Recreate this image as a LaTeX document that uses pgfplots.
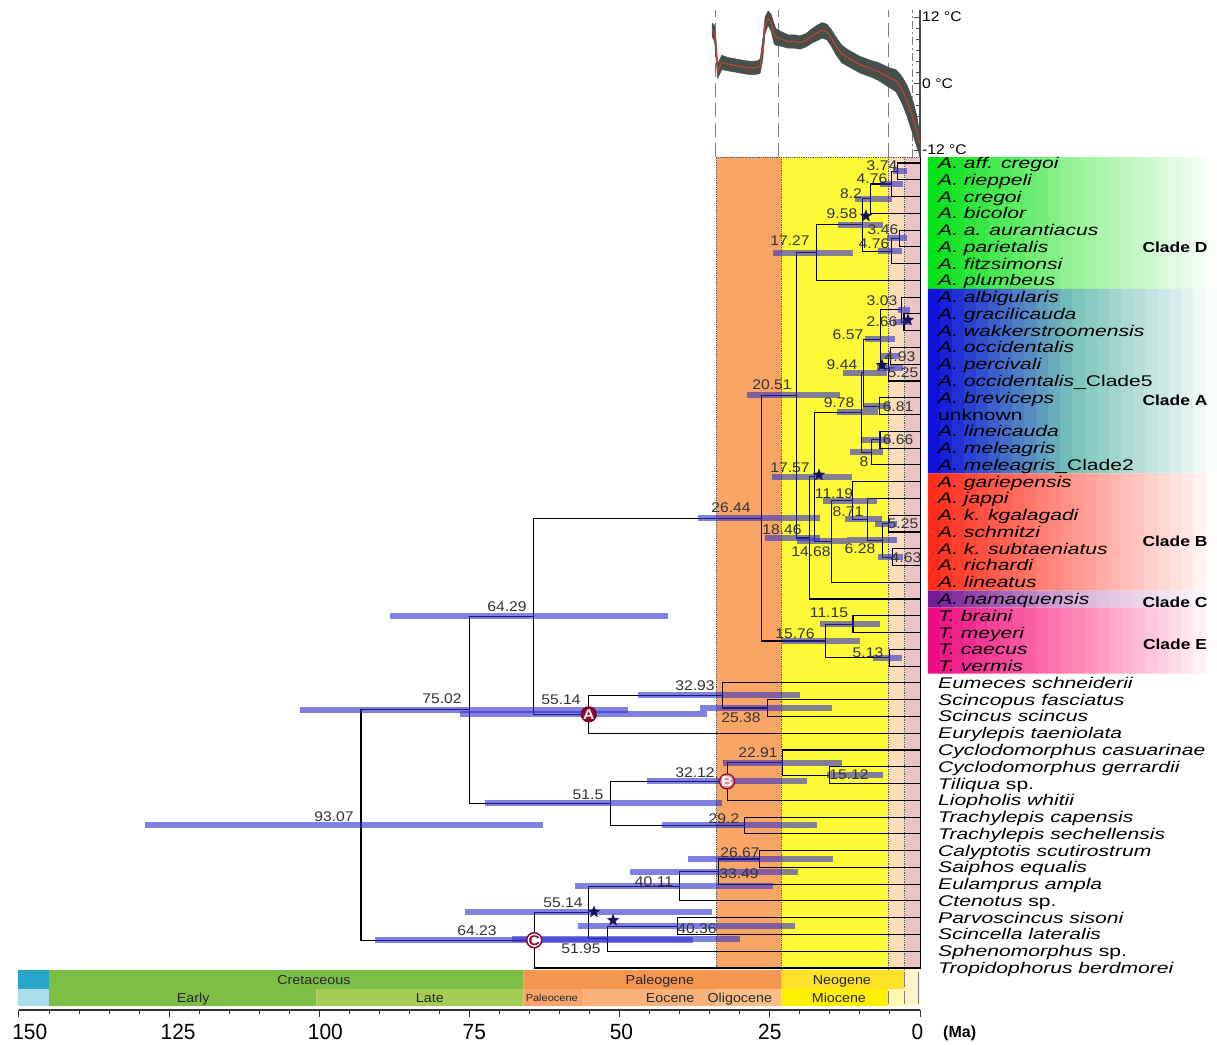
\documentclass[border=0pt]{standalone}
\usepackage{graphicx}
\usepackage{fontspec}
\setmainfont{Liberation Sans}
\newfontfamily\nlfont[FakeStretch=1.12]{Liberation Sans}
\newfontfamily\tsfont[FakeStretch=1.1]{Liberation Sans}
\newfontfamily\tkfont[FakeStretch=0.95]{Liberation Sans}
\usepackage{pgfplots}
\pgfplotsset{compat=1.18}

\newcommand{\fnl}{\nlfont\fontsize{14}{14}\selectfont}
\newcommand{\fts}{\tsfont\fontsize{13}{13}\selectfont}
\newcommand{\ftss}{\tsfont\fontsize{10}{10}\selectfont}
\newcommand{\ftk}{\tkfont\fontsize{22}{22}\selectfont}
% tip labels: plain Liberation Sans Italic, widened with \scalebox
\newcommand{\splab}[1]{\scalebox{1.36}[1]{\fontsize{15.5}{16}\selectfont\itshape\color{black}#1}}
\newcommand{\cllab}[1]{\scalebox{1.2}[1]{\fontsize{14.5}{15}\selectfont\bfseries\color{black}#1}}

\definecolor{olig}{RGB}{248,165,102}
\definecolor{mioc}{RGB}{255,250,55}
\definecolor{plio}{RGB}{250,222,185}
\definecolor{plei}{RGB}{235,195,195}
\definecolor{hpdc}{RGB}{45,45,205}
\definecolor{maroon}{RGB}{140,10,50}
\definecolor{starc}{RGB}{20,20,90}
\definecolor{tband}{RGB}{70,80,75}
\definecolor{tred}{RGB}{195,65,50}
\definecolor{jur}{RGB}{40,165,200}
\definecolor{jurl}{RGB}{170,220,235}
\definecolor{cret}{RGB}{125,190,70}
\definecolor{cretl}{RGB}{165,205,85}
\definecolor{paleog}{RGB}{245,150,80}
\definecolor{paleoc}{RGB}{248,165,110}
\definecolor{eoc}{RGB}{250,178,122}
\definecolor{oligt}{RGB}{252,192,135}
\definecolor{neog}{RGB}{255,225,40}
\definecolor{miot}{RGB}{255,240,0}
\definecolor{pliot}{RGB}{255,250,175}
\definecolor{quat}{RGB}{255,242,200}
\definecolor{cDl}{RGB}{0,225,20}
\definecolor{cDm}{RGB}{150,242,150}
\definecolor{cAl}{RGB}{10,10,220}
\definecolor{cAm}{RGB}{120,195,185}
\definecolor{cBl}{RGB}{255,40,20}
\definecolor{cBm}{RGB}{255,150,140}
\definecolor{cCl}{RGB}{110,20,150}
\definecolor{cCm}{RGB}{215,175,215}
\definecolor{cEl}{RGB}{235,10,130}
\definecolor{cEm}{RGB}{255,130,180}

\pgfdeclareplotmark{fstar}{%
 \pgfpathmoveto{\pgfpointpolar{90}{\pgfplotmarksize}}%
 \pgfpathlineto{\pgfpointpolar{126}{0.42\pgfplotmarksize}}%
 \pgfpathlineto{\pgfpointpolar{162}{\pgfplotmarksize}}%
 \pgfpathlineto{\pgfpointpolar{198}{0.42\pgfplotmarksize}}%
 \pgfpathlineto{\pgfpointpolar{234}{\pgfplotmarksize}}%
 \pgfpathlineto{\pgfpointpolar{270}{0.42\pgfplotmarksize}}%
 \pgfpathlineto{\pgfpointpolar{306}{\pgfplotmarksize}}%
 \pgfpathlineto{\pgfpointpolar{342}{0.42\pgfplotmarksize}}%
 \pgfpathlineto{\pgfpointpolar{18}{\pgfplotmarksize}}%
 \pgfpathlineto{\pgfpointpolar{54}{0.42\pgfplotmarksize}}%
 \pgfpathclose
 \pgfusepathqfillstroke}

\tikzset{
  br/.style={black, line width=1.1pt, line join=miter},
  hpd/.style={hpdc, opacity=0.6, line width=6pt, line cap=butt},
  nl/.style={font=\fnl, text=black!80, anchor=base, yshift=-5pt, inner sep=0pt},
  sp/.style={text=black, anchor=base west, yshift=-5.5pt, inner sep=0pt},
  cl/.style={text=black, anchor=base, yshift=-5.2pt, inner sep=0pt},
  bnd/.style={gray!70!black, densely dotted, line width=0.8pt},
  ts/.style={font=\fts, text=black!85, anchor=base, yshift=-4.6pt, inner sep=0pt},
  tk/.style={font=\ftk, text=black, anchor=base, inner sep=0pt},
}

% one vertical strip of a clade box: colour, x from, x to, y top, y bottom
\newcommand{\strip}[5]{\addplot[fill=#1, draw=none] coordinates {(#2,#4) (#3,#4) (#3,#5) (#2,#5) (#2,#4)};}
% clade box made of 24 strips: left colour, middle colour, y top, y bottom
\newcommand{\cbox}[4]{%
 \strip{#1!95.8!#2}{-1.33}{-3.48}{#3}{#4}
 \strip{#1!87.5!#2}{-3.335}{-5.49}{#3}{#4}
 \strip{#1!79.2!#2}{-5.339}{-7.49}{#3}{#4}
 \strip{#1!70.8!#2}{-7.344}{-9.50}{#3}{#4}
 \strip{#1!62.5!#2}{-9.348}{-11.50}{#3}{#4}
 \strip{#1!54.2!#2}{-11.353}{-13.51}{#3}{#4}
 \strip{#1!45.8!#2}{-13.358}{-15.51}{#3}{#4}
 \strip{#1!37.5!#2}{-15.362}{-17.52}{#3}{#4}
 \strip{#1!29.2!#2}{-17.367}{-19.52}{#3}{#4}
 \strip{#1!20.8!#2}{-19.371}{-21.53}{#3}{#4}
 \strip{#1!12.5!#2}{-21.376}{-23.53}{#3}{#4}
 \strip{#1!4.2!#2}{-23.381}{-25.54}{#3}{#4}
 \strip{#2!95.8!white}{-25.385}{-27.54}{#3}{#4}
 \strip{#2!87.5!white}{-27.39}{-29.55}{#3}{#4}
 \strip{#2!79.2!white}{-29.394}{-31.55}{#3}{#4}
 \strip{#2!70.8!white}{-31.399}{-33.55}{#3}{#4}
 \strip{#2!62.5!white}{-33.404}{-35.56}{#3}{#4}
 \strip{#2!54.2!white}{-35.408}{-37.56}{#3}{#4}
 \strip{#2!45.8!white}{-37.413}{-39.57}{#3}{#4}
 \strip{#2!37.5!white}{-39.417}{-41.57}{#3}{#4}
 \strip{#2!29.2!white}{-41.422}{-43.58}{#3}{#4}
 \strip{#2!20.8!white}{-43.427}{-45.58}{#3}{#4}
 \strip{#2!12.5!white}{-45.431}{-47.59}{#3}{#4}
 \strip{#2!4.2!white}{-47.436}{-49.44}{#3}{#4}
}

\begin{document}
\begin{tikzpicture}[x=1pt,y=1pt]
\path (0pt,0pt) rectangle (1217pt,-1044pt);

% ================= main tree axis =================
\begin{axis}[
  at={(19pt,-1010pt)}, anchor=south west, scale only axis,
  width=901pt, height=853pt,
  xmin=0, xmax=150, x dir=reverse,
  ymin=0.6422, ymax=51.507, y dir=reverse,
  hide axis, clip=false]

% epoch bands
\addplot[fill=olig, draw=none] coordinates {(33.9,0.6422) (23.03,0.6422) (23.03,49.06) (33.9,49.06) (33.9,0.6422)};
\addplot[fill=mioc, draw=none] coordinates {(23.03,0.6422) (5.33,0.6422) (5.33,49.06) (23.03,49.06) (23.03,0.6422)};
\addplot[fill=plio, draw=none] coordinates {(5.33,0.6422) (2.58,0.6422) (2.58,49.06) (5.33,49.06) (5.33,0.6422)};
\addplot[fill=plei, draw=none] coordinates {(2.58,0.6422) (0,0.6422) (0,49.06) (2.58,49.06) (2.58,0.6422)};
\addplot[bnd] coordinates {(33.9,49.06) (33.9,0.6422) (0,0.6422)};
\addplot[bnd] coordinates {(23.03,0.6422) (23.03,49.06)};
\addplot[bnd] coordinates {(5.33,0.6422) (5.33,49.06)};
\addplot[bnd] coordinates {(2.58,0.6422) (2.58,49.06)};
\addplot[black, line width=0.7pt] coordinates {(0,0.6422) (0,49.06)};

% clade boxes
\cbox{cDl}{cDm}{0.6422}{8.5}
\cbox{cAl}{cAm}{8.5}{19.5}
\cbox{cBl}{cBm}{19.5}{26.5}
\cbox{cCl}{cCm}{26.5}{27.5}
\cbox{cEl}{cEm}{27.5}{31.45}

% branches: Clade D
\addplot[br] coordinates {(0,1) (3.74,1) (3.74,2) (0,2)};
\addplot[br] coordinates {(3.74,1.5) (4.76,1.5) (4.76,3) (0,3)};
\addplot[br] coordinates {(4.76,2.25) (8.2,2.25) (8.2,4) (0,4)};
\addplot[br] coordinates {(0,5) (3.46,5) (3.46,6) (0,6)};
\addplot[br] coordinates {(3.46,5.5) (4.76,5.5) (4.76,7) (0,7)};
\addplot[br] coordinates {(8.2,3.125) (9.58,3.125) (9.58,6.25) (4.76,6.25)};
\addplot[br] coordinates {(9.58,4.6875) (17.27,4.6875) (17.27,8) (0,8)};
% Clade A
\addplot[br] coordinates {(0,10) (2.66,10) (2.66,11) (0,11)};
\addplot[br] coordinates {(0,9) (3.03,9) (3.03,10.5) (2.66,10.5)};
\addplot[br] coordinates {(0,12) (4.93,12) (4.93,13) (0,13)};
\addplot[br] coordinates {(4.93,12.5) (5.25,12.5) (5.25,14) (0,14)};
\addplot[br] coordinates {(3.03,9.75) (6.57,9.75) (6.57,13.25) (5.25,13.25)};
\addplot[br] coordinates {(0,15) (6.81,15) (6.81,16) (0,16)};
\addplot[br] coordinates {(6.57,11.5) (9.44,11.5) (9.44,15.5) (6.81,15.5)};
\addplot[br] coordinates {(0,17) (6.66,17) (6.66,18) (0,18)};
\addplot[br] coordinates {(6.66,17.5) (8,17.5) (8,19) (0,19)};
\addplot[br] coordinates {(9.44,13.5) (9.78,13.5) (9.78,18.25) (8,18.25)};
% Clade B
\addplot[br] coordinates {(0,22) (5.25,22) (5.25,23) (0,23)};
\addplot[br] coordinates {(0,24) (4.63,24) (4.63,25) (0,25)};
\addplot[br] coordinates {(5.25,22.5) (6.28,22.5) (6.28,24.5) (4.63,24.5)};
\addplot[br] coordinates {(0,21) (8.71,21) (8.71,23.5) (6.28,23.5)};
\addplot[br] coordinates {(0,20) (11.19,20) (11.19,22.25) (8.71,22.25)};
\addplot[br] coordinates {(11.19,21.125) (14.68,21.125) (14.68,26) (0,26)};
\addplot[br] coordinates {(9.78,15.875) (17.57,15.875) (17.57,23.5625) (14.68,23.5625)};
\addplot[br] coordinates {(17.57,19.71875) (18.46,19.71875) (18.46,27) (0,27)};
\addplot[br] coordinates {(17.27,6.34375) (20.51,6.34375) (20.51,23.359375) (18.46,23.359375)};
% Clade E
\addplot[br] coordinates {(0,28) (11.15,28) (11.15,29) (0,29)};
\addplot[br] coordinates {(0,30) (5.13,30) (5.13,31) (0,31)};
\addplot[br] coordinates {(11.15,28.5) (15.76,28.5) (15.76,30.5) (5.13,30.5)};
\addplot[br] coordinates {(20.51,14.8516) (26.44,14.8516) (26.44,29.5) (15.76,29.5)};
% outgroups
\addplot[br] coordinates {(0,33) (25.38,33) (25.38,34) (0,34)};
\addplot[br] coordinates {(0,32) (32.93,32) (32.93,33.5) (25.38,33.5)};
\addplot[br] coordinates {(32.93,32.75) (55.14,32.75) (55.14,35) (0,35)};
\addplot[br] coordinates {(26.44,22.1758) (64.29,22.1758) (64.29,33.875) (55.14,33.875)};
\addplot[br] coordinates {(0,37) (15.12,37) (15.12,38) (0,38)};
\addplot[br] coordinates {(0,36) (22.91,36) (22.91,37.5) (15.12,37.5)};
\addplot[br] coordinates {(22.91,36.75) (32.12,36.75) (32.12,39) (0,39)};
\addplot[br] coordinates {(0,40) (29.2,40) (29.2,41) (0,41)};
\addplot[br] coordinates {(32.12,37.875) (51.5,37.875) (51.5,40.5) (29.2,40.5)};
\addplot[br] coordinates {(64.29,28.0254) (75.02,28.0254) (75.02,39.1875) (51.5,39.1875)};
\addplot[br] coordinates {(0,42) (26.67,42) (26.67,43) (0,43)};
\addplot[br] coordinates {(26.67,42.5) (33.49,42.5) (33.49,44) (0,44)};
\addplot[br] coordinates {(33.49,43.25) (40.11,43.25) (40.11,45) (0,45)};
\addplot[br] coordinates {(0,46) (40.36,46) (40.36,47) (0,47)};
\addplot[br] coordinates {(40.36,46.5) (51.95,46.5) (51.95,48) (0,48)};
\addplot[br] coordinates {(40.11,44.125) (55.14,44.125) (55.14,47.25) (51.95,47.25)};
\addplot[br] coordinates {(55.14,45.6875) (64.23,45.6875) (64.23,49) (0,49)};
\addplot[br] coordinates {(75.02,33.6064) (93.07,33.6064) (93.07,47.34375) (64.23,47.34375)};

% HPD bars
\addplot[hpd] coordinates {(62.8,40.4751) (129.0,40.4751)};
\addplot[hpd] coordinates {(48.6,33.6064) (103.2,33.6064)};
\addplot[hpd] coordinates {(35.5,33.875) (76.6,33.875)};
\addplot[hpd] coordinates {(42.0,28.0254) (88.2,28.0254)};
\addplot[hpd] coordinates {(20.0,32.75) (46.9,32.75)};
\addplot[hpd] coordinates {(14.6,33.5) (36.6,33.5)};
\addplot[hpd] coordinates {(13.0,36.75) (32.8,36.75)};
\addplot[hpd] coordinates {(6.2,37.5) (15.5,37.5)};
\addplot[hpd] coordinates {(18.8,37.875) (45.4,37.875)};
\addplot[hpd] coordinates {(33.0,39.1875) (72.4,39.1875)};
\addplot[hpd] coordinates {(17.1,40.5) (42.9,40.5)};
\addplot[hpd] coordinates {(14.5,42.5) (38.6,42.5)};
\addplot[hpd] coordinates {(20.3,43.25) (48.3,43.25)};
\addplot[hpd] coordinates {(24.5,44.125) (57.4,44.125)};
\addplot[hpd] coordinates {(34.6,45.6875) (75.7,45.6875)};
\addplot[hpd] coordinates {(20.8,46.5) (56.9,46.5)};
\addplot[hpd] coordinates {(30.0,47.25) (67.9,47.25)};
\addplot[hpd] coordinates {(37.8,47.34375) (90.7,47.34375)};
\addplot[hpd] coordinates {(10.0,29.5) (23.0,29.5)};
\addplot[hpd] coordinates {(6.7,28.5) (16.6,28.5)};
\addplot[hpd] coordinates {(3.0,30.5) (7.8,30.5)};
\addplot[hpd] coordinates {(16.6,22.1758) (37.0,22.1758)};
\addplot[hpd] coordinates {(13.3,14.8516) (28.8,14.8516)};
\addplot[hpd] coordinates {(16.6,23.3594) (25.8,23.3594)};
\addplot[hpd] coordinates {(12.2,23.5625) (20.5,23.5625)};
\addplot[hpd] coordinates {(3.8,23.5) (12.2,23.5)};
\addplot[hpd] coordinates {(11.3,19.7188) (24.6,19.7188)};
\addplot[hpd] coordinates {(7.2,21.125) (16.1,21.125)};
\addplot[hpd] coordinates {(6.3,22.25) (12.5,22.25)};
\addplot[hpd] coordinates {(3.8,22.5) (7.5,22.5)};
\addplot[hpd] coordinates {(2.8,24.5) (7.0,24.5)};
\addplot[hpd] coordinates {(7.0,15.875) (13.8,15.875)};
\addplot[hpd] coordinates {(5.5,13.5) (12.8,13.5)};
\addplot[hpd] coordinates {(4.2,11.5) (9.2,11.5)};
\addplot[hpd] coordinates {(1.7,9.75) (3.7,9.75)};
\addplot[hpd] coordinates {(1.7,10.5) (4.5,10.5)};
\addplot[hpd] coordinates {(3.3,12.5) (6.7,12.5)};
\addplot[hpd] coordinates {(2.8,13.25) (7.2,13.25)};
\addplot[hpd] coordinates {(5.0,15.5) (9.5,15.5)};
\addplot[hpd] coordinates {(5.0,17.5) (9.7,17.5)};
\addplot[hpd] coordinates {(6.2,18.25) (11.7,18.25)};
\addplot[hpd] coordinates {(2.2,1.5) (4.5,1.5)};
\addplot[hpd] coordinates {(2.8,2.25) (6.7,2.25)};
\addplot[hpd] coordinates {(4.7,3.125) (10.8,3.125)};
\addplot[hpd] coordinates {(6.2,4.6875) (13.7,4.6875)};
\addplot[hpd] coordinates {(2.2,5.5) (5.5,5.5)};
\addplot[hpd] coordinates {(3.0,6.25) (7.0,6.25)};
\addplot[hpd] coordinates {(11.2,6.3438) (24.5,6.3438)};

% stars
\addplot[only marks, mark=fstar, mark size=6pt, mark options={fill=starc, draw=starc, line width=0.3pt}] coordinates {(8.99,4.16) (2.0,10.36) (6.33,13.05) (16.81,19.6) (54.27,45.66) (51.1,46.15)};

% calibration circles with their letters
\addplot[only marks, mark=*, mark size=7.5pt, mark options={fill=maroon, draw=maroon!80!black, line width=1.2pt},
  nodes near coords={\textbf{A}}, nodes near coords align={center},
  every node near coord/.append style={font=\fnl, text=white, inner sep=0pt, anchor=center}] coordinates {(55.14,33.875)};
\addplot[only marks, mark=*, mark size=7.5pt, mark options={fill=pink!70!maroon, draw=maroon, line width=1.2pt},
  nodes near coords={\textbf{B}}, nodes near coords align={center},
  every node near coord/.append style={font=\fnl, text=white, inner sep=0pt, anchor=center}] coordinates {(32.12,37.875)};
\addplot[only marks, mark=*, mark size=7.5pt, mark options={fill=white, draw=maroon, line width=1.5pt},
  nodes near coords={\textbf{C}}, nodes near coords align={center},
  every node near coord/.append style={font=\fnl, text=maroon, inner sep=0pt, anchor=center}] coordinates {(64.23,47.34375)};

% node age labels
\node[nl] at (axis cs:6.33,1.12) {3.74};
\node[nl] at (axis cs:7.99,1.95) {4.76};
\node[nl] at (axis cs:11.49,2.79) {8.2};
\node[nl] at (axis cs:12.99,4.04) {9.58};
\node[nl] at (axis cs:6.16,4.94) {3.46};
\node[nl] at (axis cs:7.66,5.77) {4.76};
\node[nl] at (axis cs:21.64,5.65) {17.27};
\node[nl] at (axis cs:6.33,9.17) {3.03};
\node[nl] at (axis cs:6.33,10.48) {2.66};
\node[nl] at (axis cs:11.99,11.20) {6.57};
\node[nl] at (axis cs:3.33,12.51) {4.93};
\node[nl] at (axis cs:12.99,12.99) {9.44};
\node[nl] at (axis cs:2.83,13.52) {5.25};
\node[nl] at (axis cs:24.64,14.18) {20.51};
\node[nl] at (axis cs:13.48,15.31) {9.78};
\node[nl] at (axis cs:3.66,15.49) {6.81};
\node[nl] at (axis cs:3.66,17.46) {6.66};
\node[nl] at (axis cs:9.32,18.77) {8};
\node[nl] at (axis cs:21.64,19.13) {17.57};
\node[nl] at (axis cs:14.32,20.68) {11.19};
\node[nl] at (axis cs:11.99,21.81) {8.71};
\node[nl] at (axis cs:2.83,22.47) {5.25};
\node[nl] at (axis cs:22.97,22.88) {18.46};
\node[nl] at (axis cs:18.15,24.14) {14.68};
\node[nl] at (axis cs:9.99,23.96) {6.28};
\node[nl] at (axis cs:2.33,24.55) {4.63};
\node[nl] at (axis cs:15.15,27.83) {11.15};
\node[nl] at (axis cs:20.81,29.03) {15.76};
\node[nl] at (axis cs:8.66,30.16) {5.13};
\node[nl] at (axis cs:31.46,21.57) {26.44};
\node[nl] at (axis cs:37.46,32.13) {32.93};
\node[nl] at (axis cs:29.80,34.04) {25.38};
\node[nl] at (axis cs:26.97,36.18) {22.91};
\node[nl] at (axis cs:37.46,37.32) {32.12};
\node[nl] at (axis cs:11.82,37.49) {15.12};
\node[nl] at (axis cs:55.27,38.63) {51.5};
\node[nl] at (axis cs:32.63,40.06) {29.2};
\node[nl] at (axis cs:68.75,27.42) {64.29};
\node[nl] at (axis cs:79.57,32.91) {75.02};
\node[nl] at (axis cs:59.76,33.02) {55.14};
\node[nl] at (axis cs:97.55,39.94) {93.07};
\node[nl] at (axis cs:29.97,42.09) {26.67};
\node[nl] at (axis cs:30.13,43.34) {33.49};
\node[nl] at (axis cs:44.28,43.87) {40.11};
\node[nl] at (axis cs:59.43,45.07) {55.14};
\node[nl] at (axis cs:37.12,46.62) {40.36};
\node[nl] at (axis cs:56.43,47.81) {51.95};
\node[nl] at (axis cs:73.75,46.74) {64.23};

% tip labels
\node[sp] at (axis cs:-3,1) {\splab{A. aff. cregoi}};
\node[sp] at (axis cs:-3,2) {\splab{A. rieppeli}};
\node[sp] at (axis cs:-3,3) {\splab{A. cregoi}};
\node[sp] at (axis cs:-3,4) {\splab{A. bicolor}};
\node[sp] at (axis cs:-3,5) {\splab{A. a. aurantiacus}};
\node[sp] at (axis cs:-3,6) {\splab{A. parietalis}};
\node[sp] at (axis cs:-3,7) {\splab{A. fitzsimonsi}};
\node[sp] at (axis cs:-3,8) {\splab{A. plumbeus}};
\node[sp] at (axis cs:-3,9) {\splab{A. albigularis}};
\node[sp] at (axis cs:-3,10) {\splab{A. gracilicauda}};
\node[sp] at (axis cs:-3,11) {\splab{A. wakkerstroomensis}};
\node[sp] at (axis cs:-3,12) {\splab{A. occidentalis}};
\node[sp] at (axis cs:-3,13) {\splab{A. percivali}};
\node[sp] at (axis cs:-3,14) {\splab{A. occidentalis{\upshape\_Clade5}}};
\node[sp] at (axis cs:-3,15) {\splab{A. breviceps}};
\node[sp] at (axis cs:-3,16) {\splab{\upshape unknown}};
\node[sp] at (axis cs:-3,17) {\splab{A. lineicauda}};
\node[sp] at (axis cs:-3,18) {\splab{A. meleagris}};
\node[sp] at (axis cs:-3,19) {\splab{A. meleagris{\upshape\_Clade2}}};
\node[sp] at (axis cs:-3,20) {\splab{A. gariepensis}};
\node[sp] at (axis cs:-3,21) {\splab{A. jappi}};
\node[sp] at (axis cs:-3,22) {\splab{A. k. kgalagadi}};
\node[sp] at (axis cs:-3,23) {\splab{A. schmitzi}};
\node[sp] at (axis cs:-3,24) {\splab{A. k. subtaeniatus}};
\node[sp] at (axis cs:-3,25) {\splab{A. richardi}};
\node[sp] at (axis cs:-3,26) {\splab{A. lineatus}};
\node[sp] at (axis cs:-3,27) {\splab{A. namaquensis}};
\node[sp] at (axis cs:-3,28) {\splab{T. braini}};
\node[sp] at (axis cs:-3,29) {\splab{T. meyeri}};
\node[sp] at (axis cs:-3,30) {\splab{T. caecus}};
\node[sp] at (axis cs:-3,31) {\splab{T. vermis}};
\node[sp] at (axis cs:-3,32) {\splab{Eumeces schneiderii}};
\node[sp] at (axis cs:-3,33) {\splab{Scincopus fasciatus}};
\node[sp] at (axis cs:-3,34) {\splab{Scincus scincus}};
\node[sp] at (axis cs:-3,35) {\splab{Eurylepis taeniolata}};
\node[sp] at (axis cs:-3,36) {\splab{Cyclodomorphus casuarinae}};
\node[sp] at (axis cs:-3,37) {\splab{Cyclodomorphus gerrardii}};
\node[sp] at (axis cs:-3,38) {\splab{Tiliqua {\upshape sp.}}};
\node[sp] at (axis cs:-3,39) {\splab{Liopholis whitii}};
\node[sp] at (axis cs:-3,40) {\splab{Trachylepis capensis}};
\node[sp] at (axis cs:-3,41) {\splab{Trachylepis sechellensis}};
\node[sp] at (axis cs:-3,42) {\splab{Calyptotis scutirostrum}};
\node[sp] at (axis cs:-3,43) {\splab{Saiphos equalis}};
\node[sp] at (axis cs:-3,44) {\splab{Eulamprus ampla}};
\node[sp] at (axis cs:-3,45) {\splab{Ctenotus {\upshape sp.}}};
\node[sp] at (axis cs:-3,46) {\splab{Parvoscincus sisoni}};
\node[sp] at (axis cs:-3,47) {\splab{Scincella lateralis}};
\node[sp] at (axis cs:-3,48) {\splab{Sphenomorphus {\upshape sp.}}};
\node[sp] at (axis cs:-3,49) {\splab{Tropidophorus berdmorei}};
\node[cl] at (axis cs:-42.45,6.01) {\cllab{Clade D}};
\node[cl] at (axis cs:-42.45,15.13) {\cllab{Clade A}};
\node[cl] at (axis cs:-42.45,23.54) {\cllab{Clade B}};
\node[cl] at (axis cs:-42.45,27.18) {\cllab{Clade C}};
\node[cl] at (axis cs:-42.45,29.68) {\cllab{Clade E}};
\end{axis}

% ================= geological time scale =================
\begin{axis}[
  at={(19pt,-1010pt)}, anchor=south west, scale only axis,
  width=901pt, height=42pt,
  xmin=0, xmax=150, x dir=reverse, ymin=0, ymax=42,
  axis x line*=bottom, axis y line=none,
  xtick={0,25,...,150}, minor x tick num=4, xticklabels={},
  tick align=outside, major tick length=7pt, minor tick length=4pt,
  every tick/.style={black!80, line width=1pt},
  x axis line style={black!80, line width=1.2pt},
  clip=false]
\addplot[fill=jur, draw=none] coordinates {(145,21) (150.2,21) (150.2,40) (145,40) (145,21)};
\addplot[fill=cret, draw=none] coordinates {(66,21) (145,21) (145,40) (66,40) (66,21)};
\addplot[fill=paleog, draw=none] coordinates {(23.03,21) (66,21) (66,40) (23.03,40) (23.03,21)};
\addplot[fill=neog, draw=none] coordinates {(2.58,21) (23.03,21) (23.03,40) (2.58,40) (2.58,21)};
\addplot[fill=quat, draw=none] coordinates {(0,21) (2.58,21) (2.58,40) (0,40) (0,21)};
\addplot[fill=jurl, draw=none] coordinates {(145,4) (150.2,4) (150.2,21) (145,21) (145,4)};
\addplot[fill=cret, draw=none] coordinates {(100.5,4) (145,4) (145,21) (100.5,21) (100.5,4)};
\addplot[fill=cretl, draw=none] coordinates {(66,4) (100.5,4) (100.5,21) (66,21) (66,4)};
\addplot[fill=paleoc, draw=none] coordinates {(56,4) (66,4) (66,21) (56,21) (56,4)};
\addplot[fill=eoc, draw=none] coordinates {(33.9,4) (56,4) (56,21) (33.9,21) (33.9,4)};
\addplot[fill=oligt, draw=none] coordinates {(23.03,4) (33.9,4) (33.9,21) (23.03,21) (23.03,4)};
\addplot[fill=miot, draw=none] coordinates {(5.33,4) (23.03,4) (23.03,21) (5.33,21) (5.33,4)};
\addplot[fill=pliot, draw=none] coordinates {(2.58,4) (5.33,4) (5.33,21) (2.58,21) (2.58,4)};
\addplot[fill=quat, draw=none] coordinates {(0,4) (2.58,4) (2.58,21) (0,21) (0,4)};
\addplot[gray, line width=0.6pt] coordinates {(5.33,6) (5.33,19)};
\addplot[gray, line width=0.6pt] coordinates {(2.58,6) (2.58,19)};
\addplot[gray, line width=0.6pt] coordinates {(0.3,6) (0.3,38)};
\addplot[gray, line width=0.6pt] coordinates {(2.58,23) (2.58,38)};
\node[ts] at (axis cs:100.9,30.5) {Cretaceous};
\node[ts] at (axis cs:43.3,30.5) {Paleogene};
\node[ts] at (axis cs:13.0,30.5) {Neogene};
\node[ts] at (axis cs:121.0,12.5) {Early};
\node[ts] at (axis cs:81.6,12.5) {Late};
\node[font=\ftss, text=black!85, anchor=base, yshift=-3.6pt, inner sep=0pt] at (axis cs:61.3,12.5) {Paleocene};
\node[ts] at (axis cs:41.6,12.5) {Eocene};
\node[ts] at (axis cs:30.0,12.5) {Oligocene};
\node[ts] at (axis cs:13.5,12.5) {Miocene};
\node[tk] at (axis cs:148.2,-29.5) {150};
\node[tk] at (axis cs:123.5,-29.5) {125};
\node[tk] at (axis cs:99.0,-29.5) {100};
\node[tk] at (axis cs:74.2,-29.5) {75};
\node[tk] at (axis cs:49.7,-29.5) {50};
\node[tk] at (axis cs:25.0,-29.5) {25};
\node[tk] at (axis cs:0.42,-29.5) {0};
\node[font=\fontsize{16}{16}\selectfont\bfseries, anchor=base, inner sep=0pt] at (axis cs:-6.6,-27.5) {(Ma)};
\end{axis}

% ================= temperature curve =================
\begin{axis}[
  at={(709.8pt,-157pt)}, anchor=south west, scale only axis,
  width=210.2pt, height=147pt,
  xmin=-35, xmax=0, ymin=-13.27, ymax=13.27,
  axis y line*=right, axis x line=none,
  ytick={-12,0,12}, yticklabels={-12 °C, 0 °C, 12 °C},
  minor y tick num=5, tick align=inside,
  major tick length=6pt, minor tick length=4pt,
  every tick/.style={black!70, line width=0.8pt},
  y axis line style={black!70, line width=1.2pt},
  yticklabel style={font=\nlfont\fontsize{14}{14}\selectfont, inner sep=2pt},
  clip=false]
\addplot[gray, dashed, dash pattern=on 14pt off 6pt, line width=1.3pt] coordinates {(-34.0,-13.27) (-34.0,13.27)};
\addplot[gray, dashed, dash pattern=on 14pt off 6pt, line width=1.3pt] coordinates {(-23.6,-13.27) (-23.6,13.27)};
\addplot[gray, dashed, dash pattern=on 14pt off 6pt, line width=1.3pt] coordinates {(-5.3,-13.27) (-5.3,13.27)};
\addplot[gray, dash pattern=on 8pt off 3pt on 2pt off 3pt, line width=1.1pt] coordinates {(-1.3,-13.27) (-1.3,13.27)};
% noisy envelope of the record
\addplot[fill=tband, draw=tband, line width=0.5pt] coordinates {
(-34.6,10.9) (-34.2,10.5) (-33.9,7.3) (-33.7,3.5) (-33.0,5.1) (-32.0,4.7) (-31.0,4.5) (-30.0,4.3)
(-29.0,4.1) (-28.0,4.0) (-27.0,4.1) (-26.6,4.5) (-26.2,7.8) (-25.8,12.0) (-25.3,13.1) (-24.8,12.5)
(-24.3,10.8) (-24.0,9.9) (-23.0,9.3) (-22.0,8.8) (-21.0,8.8) (-20.0,8.6) (-19.0,9.0) (-18.0,9.9)
(-17.0,10.6) (-16.3,11.0) (-15.5,10.7) (-14.8,9.8) (-14.0,8.4) (-13.0,6.9) (-12.0,6.1) (-11.0,5.5)
(-10.0,4.9) (-9.0,4.5) (-8.0,4.1) (-7.0,3.8) (-6.0,3.3) (-5.0,2.8) (-4.0,2.5) (-3.3,1.7)
(-2.8,0.9) (-2.2,-0.2) (-1.6,-1.8) (-1.0,-3.8) (-0.5,-6.0) (-0.1,-8.8)
(-0.1,-12.8) (-0.5,-11.6) (-1.0,-9.8) (-1.6,-7.8) (-2.2,-5.8) (-2.8,-4.1) (-3.3,-2.9) (-4.0,-1.5)
(-5.0,-0.8) (-6.0,-0.1) (-7.0,0.6) (-8.0,1.1) (-9.0,1.5) (-10.0,1.9) (-11.0,2.5) (-12.0,3.1)
(-13.0,3.7) (-14.0,5.2) (-14.8,6.8) (-15.5,7.9) (-16.3,8.2) (-17.0,7.8) (-18.0,7.3) (-19.0,6.6)
(-20.0,6.2) (-21.0,6.4) (-22.0,6.4) (-23.0,6.7) (-24.0,6.9) (-24.3,7.2) (-24.8,9.5) (-25.3,10.5)
(-25.8,9.0) (-26.2,4.2) (-26.6,1.9) (-27.0,1.7) (-28.0,1.6) (-29.0,1.7) (-30.0,1.9) (-31.0,2.1)
(-32.0,2.3) (-33.0,2.5) (-33.7,0.9) (-33.9,3.7) (-34.2,7.5) (-34.6,8.5) (-34.6,10.9)};
\addplot[tred, line width=1.2pt] coordinates {
(-34.6,9.7) (-34.2,9.0) (-33.9,5.5) (-33.7,2.2) (-33.0,3.8) (-32.0,3.5) (-31.0,3.3) (-30.0,3.1)
(-29.0,2.9) (-28.0,2.8) (-27.0,2.9) (-26.6,3.2) (-26.2,6.0) (-25.8,10.5) (-25.3,11.8) (-24.8,11.0)
(-24.3,9.0) (-24.0,8.4) (-23.0,8.0) (-22.0,7.6) (-21.0,7.6) (-20.0,7.4) (-19.0,7.8) (-18.0,8.6)
(-17.0,9.2) (-16.3,9.6) (-15.5,9.3) (-14.8,8.3) (-14.0,6.8) (-13.0,5.3) (-12.0,4.6) (-11.0,4.0)
(-10.0,3.4) (-9.0,3.0) (-8.0,2.6) (-7.0,2.2) (-6.0,1.6) (-5.0,1.0) (-4.0,0.5) (-3.3,-0.6)
(-2.8,-1.6) (-2.2,-3.0) (-1.6,-4.8) (-1.0,-6.8) (-0.5,-8.8) (-0.1,-10.8)};
\end{axis}
\end{tikzpicture}
\end{document}
